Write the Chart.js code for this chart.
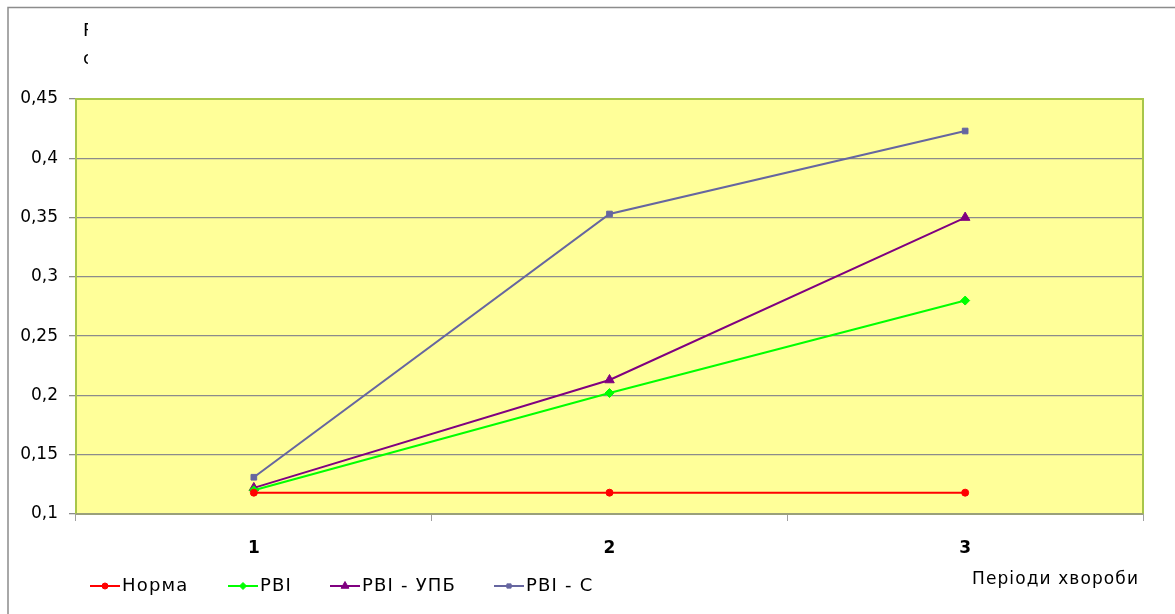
<!DOCTYPE html>
<html>
<head>
<meta charset="utf-8">
<script src="https://cdn.jsdelivr.net/npm/chart.js@4"></script>
<style>
html,body{margin:0;padding:0;background:#fff;}
#wrap{position:relative;width:1175px;height:614px;}
</style>
</head>
<body>
<div id="wrap"><canvas id="c" width="1175" height="614"></canvas></div>
<script>
const categories = ['1', '2', '3'];
const normaValues = [0.118, 0.118, 0.118];
const rviValues = [0.120, 0.202, 0.280];
const rviUpbValues = [0.122, 0.213, 0.350];
const rviSValues = [0.131, 0.353, 0.423];
const yTicks = [0.1, 0.15, 0.2, 0.25, 0.3, 0.35, 0.4, 0.45];
const seriesNames = ['Норма', 'РВІ', 'РВІ - УПБ', 'РВІ - С'];
const xAxisTitle = 'Періоди хвороби';
const clippedTitle = ['Р', 'с'];

const FONT = '"DejaVu Sans", "Liberation Sans", Arial, sans-serif';

const framePlugin = {
  id: 'frame',
  beforeDraw(chart) {
    const ctx = chart.ctx, a = chart.chartArea;
    ctx.save();
    ctx.fillStyle = '#fff';
    ctx.fillRect(0, 0, chart.width, chart.height);
    // outer frame
    ctx.strokeStyle = '#8c8c8c';
    ctx.lineWidth = 1.5;
    ctx.beginPath();
    ctx.moveTo(8, 614);
    ctx.lineTo(8, 7.5);
    ctx.lineTo(1175, 7.5);
    ctx.stroke();
    ctx.fillStyle = '#FFFF99';
    ctx.fillRect(a.left, a.top, a.right - a.left, a.bottom - a.top);
    // clipped title
    ctx.beginPath();
    ctx.rect(76, 10, 12, 70);
    ctx.clip();
    ctx.fillStyle = '#000';
    ctx.font = '18px ' + FONT;
    ctx.textBaseline = 'middle';
    ctx.fillText(clippedTitle[0], 83, 31);
    ctx.fillText(clippedTitle[1], 83, 59);
    ctx.restore();
  },
  afterDraw(chart) {
    const ctx = chart.ctx, a = chart.chartArea;
    ctx.save();
    ctx.strokeStyle = '#A8C64A';
    ctx.lineWidth = 2;
    ctx.beginPath();
    ctx.moveTo(a.left, a.bottom);
    ctx.lineTo(a.left, a.top);
    ctx.lineTo(a.right, a.top);
    ctx.lineTo(a.right, a.bottom);
    ctx.stroke();
    ctx.strokeStyle = '#9aa07a';
    ctx.beginPath();
    ctx.moveTo(a.left, a.bottom);
    ctx.lineTo(a.right, a.bottom);
    ctx.stroke();
    // legend
    const items = chart.data.datasets;
    const xs = [90, 228, 330, 494];
    const ly = 586;
    items.forEach((ds, i) => {
      const x = xs[i];
      ctx.strokeStyle = ds.borderColor;
      ctx.fillStyle = ds.borderColor;
      ctx.lineWidth = 2;
      ctx.beginPath();
      ctx.moveTo(x, ly);
      ctx.lineTo(x + 30, ly);
      ctx.stroke();
      ctx.lineWidth = 1;
      Chart.helpers.drawPoint(ctx, {
        pointStyle: ds.pointStyle,
        radius: Math.max(3, ds.pointRadius - 1),
        borderWidth: 1,
        rotation: 0
      }, x + 15, ly);
      ctx.fillStyle = '#000';
      ctx.font = '18px ' + FONT;
      ctx.letterSpacing = '1.2px';
      ctx.textBaseline = 'middle';
      ctx.textAlign = 'left';
      ctx.fillText(ds.label, x + 32, ly);
    });
    ctx.font = '17px ' + FONT;
    ctx.letterSpacing = '1.1px';
    ctx.textAlign = 'left';
    ctx.fillStyle = '#000';
    ctx.fillText(xAxisTitle, 972, 580);
    ctx.restore();
  }
};

function ds(label, data, color, style, r) {
  return {
    label, data,
    borderColor: color, backgroundColor: color,
    pointBackgroundColor: color, pointBorderColor: color,
    pointStyle: style, pointRadius: r, pointHoverRadius: r,
    borderWidth: 2, pointBorderWidth: 1, tension: 0, fill: false
  };
}

const chart = new Chart(document.getElementById('c'), {
  type: 'line',
  data: {
    labels: categories,
    datasets: [
      ds(seriesNames[0], normaValues, '#FF0000', 'circle', 3.5),
      ds(seriesNames[1], rviValues, '#00FF00', 'rectRot', 4.5),
      ds(seriesNames[2], rviUpbValues, '#800080', 'triangle', 5.5),
      ds(seriesNames[3], rviSValues, '#6666A0', 'rect', 4)
    ]
  },
  options: {
    responsive: false,
    animation: false,
    devicePixelRatio: 1,
    layout: { padding: { left: 0, top: 99, right: 32, bottom: 0 } },
    plugins: { legend: { display: false }, tooltip: { enabled: false } },
    scales: {
      x: {
        type: 'category',
        offset: true,
        grid: { offset: true, drawOnChartArea: false, drawTicks: true, tickLength: 7, color: '#a0a0a0', lineWidth: 1 },
        border: { display: false },
        ticks: { color: '#000', font: { family: FONT, size: 17, weight: 'bold' }, padding: 17 },
        afterFit(s) { s.height = 100; }
      },
      y: {
        min: 0.1, max: 0.45,
        afterBuildTicks(s) { s.ticks = yTicks.map(v => ({ value: v })); },
        grid: { color: '#8c8c8c', lineWidth: 1.3, drawTicks: true, tickLength: 7 },
        border: { display: false },
        ticks: {
          color: '#000', font: { family: FONT, size: 17 }, padding: 11,
          callback: v => String(Math.round(v * 100) / 100).replace('.', ',')
        },
        afterFit(s) { s.width = 76; }
      }
    }
  },
  plugins: [framePlugin]
});
</script>
</body>
</html>
